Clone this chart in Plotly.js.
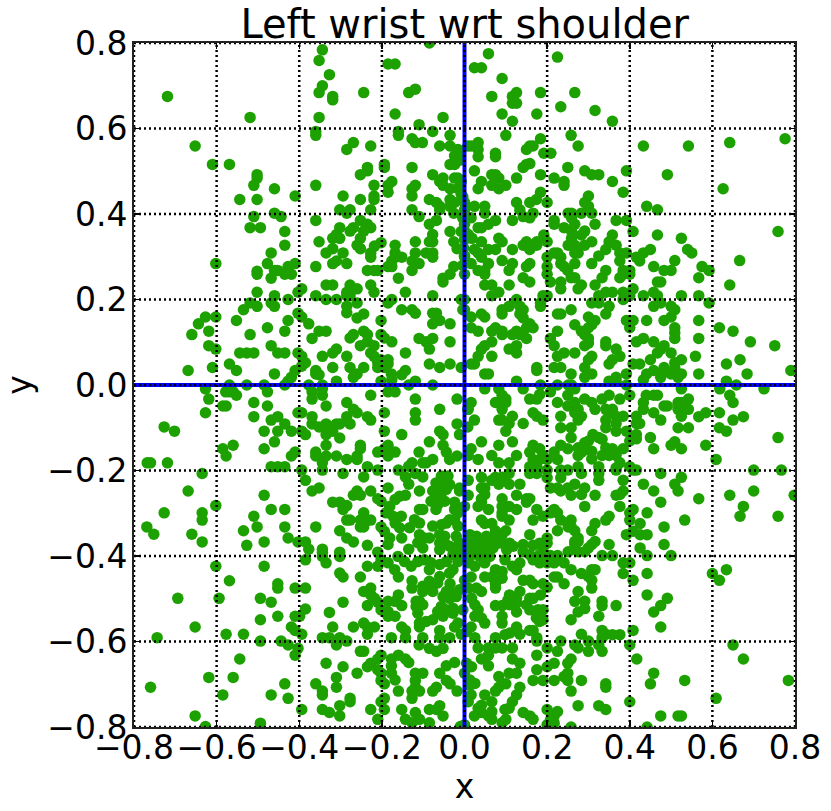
<!DOCTYPE html>
<html>
<head>
<meta charset="utf-8">
<script src="https://cdn.plot.ly/plotly-3.0.1.min.js"></script>
<style>
  html, body { margin: 0; padding: 0; background: #fff; }
</style>
</head>
<body>
<div id="chart" style="width:831px;height:811px"></div>
<script>
// points, one list per quadrant, [x, y]
const upperLeft = [
[-.719,.675],[-.344,.784],[-.352,.759],[-.185,.751],[-.168,.751],[-.327,.726],[-.344,.70],[-.352,.684],[-.319,.675],[-.319,.667],[-.244,.684],[-.135,.684],[-.119,.692],[-.519,.626],[-.352,.626],[-.168,.634],[-.052,.626],[-.11,.609],[-.085,.8],
[-.36,.593],[-.36,.584],[-.16,.593],[-.16,.584],[-.077,.593],[-.035,.584],[-.127,.576],[-.119,.567],[-.102,.567],[-.06,.559],[-.035,.559],[.008,.559],[-.652,.559],[-.269,.567],[-.285,.551],[-.227,.559],
[-.016,.551],[-.024,.536],[-.012,.536],[-.035,.516],[-.024,.516],[-.61,.516],[-.569,.516],[-.235,.509],[-.235,.501],[-.252,.492],[-.194,.516],[-.194,.509],[-.127,.509],[-.077,.492],[-.502,.492],[-.502,.484],[-.51,.467],[-.36,.467],[-.46,.459],
[-.176,.476],[-.185,.467],[-.185,.451],[-.219,.467],[-.119,.467],[-.127,.459],[-.127,.442],[-.06,.476],[-.052,.484],[-.052,.467],[-.035,.459],[-.024,.484],[-.016,.484],[-.008,.476],[-.544,.434],[-.502,.434],[-.41,.442],[-.294,.442],[-.252,.434],[-.219,.442],[-.219,.434],
[-.085,.434],[-.068,.427],[-.06,.418],[-.06,.41],[-.035,.434],[-.024,.427],[-.035,.418],[-.008,.446],[-.227,.41],[-.302,.41],[-.277,.41],[-.285,.402],[-.127,.41],[-.46,.402],[-.444,.394],[-.51,.394],[-.11,.394],[-.026,.402],[-.36,.385],[-.252,.385],[-.235,.376],[-.227,.368],
[-.068,.385],[-.085,.376],[-.519,.368],[-.494,.368],[-.302,.368],[-.269,.368],[-.277,.36],[-.435,.359],[-.244,.36],[-.252,.343],[-.31,.352],[-.319,.343],[-.302,.343],[-.035,.359],[-.008,.359],[-.077,.352],[-.077,.335],[-.085,.335],[-.352,.335],[-.119,.335],[-.202,.333],[-.218,.325],
[-.026,.335],[-.018,.319],[-.435,.327],[-.26,.327],[-.252,.319],[-.168,.327],[-.168,.309],[-.319,.319],[-.335,.309],[-.468,.309],[-.294,.309],[-.227,.309],[-.227,.299],[-.152,.299],[-.168,.299],[-.176,.29],[-.119,.309],[-.127,.29],[-.11,.284],[-.093,.309],[-.077,.309],[-.077,.299],
[-.602,.284],[-.477,.284],[-.41,.284],[-.427,.277],[-.31,.29],[-.319,.284],[-.285,.284],[-.36,.277],[-.185,.277],[-.176,.277],[-.026,.277],[-.502,.266],[-.502,.259],[-.46,.268],[-.452,.268],[-.435,.259],[-.419,.259],[-.468,.25],[-.235,.268],[-.219,.268],[-.21,.268],[-.127,.268],
[-.035,.259],[-.052,.25],[-.052,.241],[-.16,.25],[-.335,.234],[-.319,.234],[-.277,.234],[-.227,.234],[-.219,.217],[-.394,.225],[-.403,.217],[-.26,.225],[-.285,.217],[-.277,.209],[-.285,.209],[-.502,.217],[-.46,.209],[-.36,.209],[-.143,.217],[-.077,.209],[-.335,.2],[-.31,.2],[-.427,.2],
[-.519,.192],[-.502,.184],[-.468,.192],[-.46,.184],[-.176,.2],[-.185,.192],[-.008,.2],[-.26,.192],[-.285,.184],[-.285,.169],[-.26,.157],[-.244,.166],[-.535,.176],[-.152,.176],[-.127,.176],[-.119,.168],[-.004,.176],[-.077,.168],[-.068,.168],[-.06,.151],[-.077,.143],
[-.403,.168],[-.394,.159],[-.377,.143],[-.627,.159],[-.602,.159],[-.644,.143],[-.552,.151],[-.427,.151],[-.202,.151],[-.035,.143],[-.477,.134],[-.619,.126],[-.435,.126],[-.352,.126],[-.335,.126],[-.244,.126],[-.235,.118],[-.66,.118],[-.519,.118],[-.202,.118],[-.194,.11],[-.176,.101],
[-.269,.118],[-.277,.11],[-.369,.109],[-.11,.109],[-.093,.101],[-.077,.109],[-.085,.084],[-.035,.101],[-.252,.092],[-.235,.101],[-.219,.092],[-.619,.092],[-.602,.084],[-.468,.092],[-.544,.075],[-.527,.075],[-.51,.075],[-.452,.075],[-.435,.075],[-.31,.084],[-.319,.075],
[-.227,.075],[-.219,.067],[-.21,.052],[-.403,.075],[-.394,.067],[-.385,.052],[-.394,.044],[-.143,.075],[-.344,.067],[-.285,.067],[-.185,.059],[-.185,.049],[-.202,.059],[-.569,.049],[-.552,.034],[-.085,.049],[-.06,.041],[-.035,.049],[-.008,.041],[-.61,.041],[-.669,.034],
[-.319,.041],[-.277,.041],[-.244,.041],[-.21,.041],[-.194,.041],[-.41,.034],[-.36,.034],[-.36,.026],[-.352,.024],[-.143,.034],[-.152,.024],[-.177,.026],[-.26,.026],[-.269,.018],[-.46,.026],[-.419,.018],[-.427,.009],[-.31,.009],[-.202,.009],[-.176,.012],[-.119,.009],
[-.569,0],[-.527,0],[-.485,0],[-.435,0],[-.377,0],[-.344,0],[-.135,0],[-.077,0],[-.016,.46],[-.004,.44],[0,.41],[-.004,.39],[0,.34],[-.002,.32],[0,.3],[-.004,.28]
];
const upperRight = [
[.058,.775],[.225,.767],[.024,.742],[.041,.742],[.091,.717],[.066,.675],[.116,.675],[.126,.684],[.184,.684],[.267,.684],[.116,.659],[.126,.659],[.233,.651],[.316,.642],[.091,.634],[.175,.634],[.116,.617],[.358,.617],[.1,.584],[.258,.584],[.184,.576],
[.033,.567],[.016,.559],[.033,.551],[.033,.534],[.158,.559],[.166,.559],[.15,.551],[.275,.559],[.433,.559],[.542,.559],[.642,.567],[.776,.576],[.192,.542],[.209,.542],[.075,.542],[.075,.534],[-.011,.548],[-.011,.526],[.158,.518],[.15,.516],[.142,.509],[.25,.509],[.024,.501],
[.291,.501],[.308,.492],[.325,.492],[.392,.501],[.066,.492],[.075,.492],[.083,.484],[.184,.492],[.491,.492],[.126,.484],[.217,.484],[.041,.476],[.033,.459],[.241,.476],[.241,.467],[.358,.476],[.066,.467],[.083,.459],[.1,.467],[.626,.459],[.184,.451],[.174,.434],[.158,.427],[.384,.451],
[.3,.442],[.291,.427],[.3,.418],[.283,.402],[.126,.427],[.134,.41],[.142,.394],[.158,.391],[.166,.402],[.2,.427],[0,.427],[.024,.418],[.049,.418],[.049,.402],[.441,.418],[.467,.41],[.251,.402],[.259,.402],[.308,.402],[.016,.391],[.075,.385],[.058,.376],[.041,.368],[.033,.368],[.116,.385],
[.217,.385],[.217,.376],[.267,.376],[.259,.391],[.367,.385],[.392,.385],[.316,.376],[.241,.368],[.259,.36],[.259,.343],[.291,.36],[.283,.351],[.408,.359],[.759,.359],[.467,.351],[.358,.351],[.35,.335],[.342,.317],[0,.376],[0,.36],[.009,.352],[.018,.343],[.192,.351],[.083,.343],[.091,.335],
[.525,.343],[.041,.335],[.2,.335],[.308,.335],[.291,.327],[.15,.335],[.142,.327],[.158,.317],[.166,.327],[.175,.335],[.175,.327],[.251,.327],[.267,.327],[.267,.309],[.275,.309],[.367,.327],[.376,.309],[.392,.309],[.024,.317],[.033,.309],[.041,.299],[.058,.317],[.075,.317],[.116,.317],
[.45,.317],[.433,.309],[.416,.299],[.424,.29],[.54,.317],[.55,.309],[.217,.309],[.225,.309],[.2,.299],[.233,.299],[0,.302],[.325,.302],[.376,.29],[.509,.291],[.666,.291],[.091,.291],[.016,.284],[.058,.284],[.116,.284],[.108,.268],[.158,.284],[.15,.277],[.233,.284],[.241,.277],[.25,.268],[.258,.251],[.267,.251],
[.267,.284],[.308,.284],[.458,.277],[.575,.277],[.592,.268],[.2,.277],[.2,.259],[.033,.268],[.049,.268],[.049,.259],[.342,.268],[.333,.251],[.384,.268],[.4,.268],[.384,.259],[.4,.259],[.376,.251],[.483,.268],[.5,.268],[0,.259],[.142,.251],[.158,.241],[.567,.251],[.208,.241],[.233,.241],[.233,.225],
[.467,.241],[.475,.241],[.049,.234],[.066,.234],[.108,.234],[.283,.234],[.275,.225],[.316,.234],[.642,.234],[.408,.225],[.083,.217],[.066,.209],[.342,.217],[.358,.217],[.325,.209],[.384,.217],[.384,.2],[.4,.209],[.458,.217],[.433,.209],[.467,.209],[.19,.209],[.2,.209],[.525,.209],[.567,.209],[.126,.2],
[.184,.192],[.184,.184],[.308,.192],[.325,.192],[0,.2],[0,.176],[.592,.192],[.475,.192],[.458,.184],[.108,.184],[.091,.176],[.091,.166],[.134,.184],[.142,.176],[.134,.166],[.142,.157],[.258,.176],[.35,.184],[.342,.166],[.5,.184],[.509,.176],[.5,.159],[.483,.151],[.041,.166],[.049,.159],[.225,.166],[.233,.166],[.016,.159],
[.3,.159],[.316,.151],[.308,.141],[.3,.134],[.392,.151],[.408,.151],[.4,.134],[.158,.143],[.15,.134],[.166,.134],[.441,.151],[.567,.151],[.267,.141],[.509,.134],[.509,.122],[.509,.109],[.016,.134],[.033,.126],[.075,.134],[.066,.126],[.617,.134],[.091,.126],[.091,.118],[.126,.126],[.116,.118],[.134,.118],[.15,.109],
[.225,.126],[.283,.126],[.291,.118],[.3,.109],[.3,.098],[.291,.092],[.65,.126],[.208,.109],[.217,.092],[.433,.109],[.416,.101],[.567,.109],[.066,.101],[.049,.092],[.041,.084],[.033,.067],[.066,.067],[.342,.101],[.342,.092],[.458,.101],[.692,.101],[.751,.092],[.483,.092],[.475,.084],[.467,.075],
[.126,.092],[.108,.084],[.126,.075],[.367,.084],[.376,.067],[.358,.059],[.35,.049],[.241,.075],[.225,.067],[.267,.075],[.5,.075],[.308,.067],[.3,.059],[.291,.041],[.559,.067],[.45,.059],[.525,.059],[.509,.052],[.509,.04],[.667,.059],[.024,.049],[.016,.049],[.217,.041],[.233,.041],[.175,.041],[.175,.034],
[.408,.049],[.424,.049],[.634,.049],[.483,.041],[.483,.032],[.458,.034],[.79,.034],[.049,.026],[.058,.026],[.258,.026],[.308,.026],[.291,.018],[.392,.026],[.441,.026],[.433,.012],[.475,.018],[.5,.026],[.517,.018],[.525,.026],[.567,.026],[.684,.026],[.367,.018],[.35,.009],[.367,.009],[.126,.009],[.634,.009],[.658,0],[.184,0],[.225,0],[.251,0],[.259,0],[.392,0]
];
const lowerLeft = [
[-.627,-.009],[-.619,-.033],[-.578,-.016],[-.569,-.016],[-.56,-.016],[-.552,-.024],[-.477,-.016],[-.369,-.016],[-.369,-.033],[-.344,-.024],[-.344,-.009],[-.227,-.024],[-.185,-.016],[-.168,-.016],[-.119,-.033],[-.018,-.033],[-.51,-.041],[-.477,-.049],[-.585,-.049],[-.577,-.049],[-.285,-.041],[-.335,-.049],
[-.269,-.057],[-.26,-.065],[-.06,-.057],[.008,-.057],[-.119,-.065],[-.119,-.082],[-.627,-.065],[-.403,-.065],[-.394,-.065],[-.194,-.065],[-.51,-.074],[-.452,-.074],[-.468,-.082],[-.369,-.074],[-.369,-.091],[-.352,-.098],[-.285,-.074],[-.235,-.074],[-.227,-.082],
[-.435,-.091],[-.335,-.091],[-.31,-.091],[-.302,-.091],[-.277,-.091],[-.018,-.091],[.008,-.098],[-.727,-.098],[-.702,-.108],[-.485,-.108],[-.452,-.108],[-.419,-.108],[-.394,-.108],[-.385,-.116],[-.319,-.108],[-.335,-.116],[-.194,-.108],[-.06,-.108],[-.052,-.116],[-.152,-.116],[-.012,-.116],
[-.302,-.124],[-.46,-.133],[-.085,-.133],[-.335,-.141],[-.185,-.141],[-.052,-.141],[-.252,-.141],[-.252,-.149],[-.56,-.141],[-.585,-.149],[-.577,-.166],[-.485,-.149],[-.194,-.149],[-.168,-.157],[-.21,-.157],[-.185,-.166],[-.41,-.157],[-.419,-.166],[-.36,-.157],[-.36,-.166],[-.11,-.157],
[-.044,-.157],[-.036,-.174],[-.018,-.166],[-.31,-.166],[-.335,-.166],[-.26,-.166],[-.26,-.174],[-.285,-.174],[-.344,-.182],[-.093,-.182],[-.077,-.174],[-.101,-.182],[-.127,-.182],[-.135,-.19],[-.768,-.182],[-.76,-.182],[-.719,-.182],[-.344,-.199],[-.468,-.191],[-.452,-.191],[-.435,-.191],[-.235,-.191],
[-.21,-.199],[-.16,-.199],[-.143,-.215],[-.135,-.232],[-.394,-.199],[-.385,-.223],[-.635,-.207],[-.294,-.207],[-.244,-.215],[-.119,-.207],[-.101,-.215],[-.056,-.213],[-.04,-.213],[-.069,-.229],[-.052,-.229],[-.036,-.233],[-.077,-.248],[-.06,-.248],[-.044,-.244],[-.069,-.264],[-.056,-.264],[-.081,-.272],[-.065,-.28],[-.048,-.272],[-.069,-.291],
[-.012,-.241],[-.012,-.248],[-.352,-.241],[-.369,-.248],[-.185,-.241],[-.109,-.248],[-.669,-.248],[-.227,-.248],[-.26,-.248],[-.269,-.258],[-.252,-.258],[-.485,-.258],[-.143,-.258],[-.157,-.26],[-.168,-.268],[-.21,-.266],[-.202,-.272],[-.319,-.274],[-.302,-.274],[-.285,-.282],[-.294,-.291],
[-.024,-.274],[-.602,-.282],[-.181,-.284],[-.19,-.299],[-.468,-.291],[-.435,-.291],[-.109,-.291],[-.101,-.291],[-.024,-.291],[-.016,-.299],[-.727,-.299],[-.635,-.299],[-.635,-.316],[-.244,-.299],[-.252,-.316],[-.235,-.316],[-.227,-.316],[-.277,-.316],[-.285,-.316],[-.244,-.332],[-.252,-.332],
[-.51,-.307],[-.173,-.307],[-.153,-.307],[-.168,-.323],[-.121,-.315],[-.109,-.323],[-.024,-.315],[-.036,-.315],[-.016,-.33],[-.769,-.332],[-.752,-.349],[-.502,-.332],[-.435,-.332],[-.36,-.332],[-.202,-.332],[-.157,-.334],[-.133,-.334],[-.077,-.33],[-.056,-.327],[-.044,-.323],[-.535,-.341],[-.302,-.341],
[-.194,-.342],[-.181,-.358],[-.185,-.373],[-.66,-.349],[-.427,-.358],[-.285,-.358],[-.269,-.367],[-.152,-.358],[-.109,-.35],[-.113,-.369],[-.097,-.358],[-.085,-.358],[-.101,-.381],[-.06,-.35],[-.048,-.354],[-.06,-.37],[-.048,-.37],[-.036,-.377],[-.06,-.385],[-.02,-.354],[-.012,-.37],[-.016,-.385],[-.028,-.397],
[-.635,-.367],[-.485,-.367],[-.403,-.367],[-.385,-.367],[-.377,-.384],[-.235,-.375],[-.527,-.375],[-.344,-.384],[-.344,-.391],[-.344,-.401],[-.335,-.416],[-.302,-.391],[-.302,-.401],[-.135,-.384],[-.21,-.391],[-.202,-.409],[-.21,-.424],[-.161,-.401],[-.145,-.413],[-.129,-.424],[-.185,-.416],[-.169,-.432],[-.16,-.449],
[-.113,-.413],[-.097,-.409],[-.081,-.416],[-.085,-.432],[-.06,-.42],[-.044,-.413],[-.016,-.413],[-.008,-.401],[-.385,-.409],[-.602,-.424],[-.485,-.424],[-.235,-.424],[-.302,-.44],[-.294,-.449],[-.252,-.449],[-.036,-.44],[-.028,-.432],[-.06,-.448],[-.065,-.463],[-.085,-.459],[-.569,-.458],[-.127,-.458],[-.127,-.475],
[-.452,-.465],[-.452,-.475],[-.035,-.465],[-.101,-.471],[-.085,-.475],[-.101,-.483],[-.077,-.483],[-.41,-.475],[-.385,-.475],[-.227,-.475],[-.244,-.483],[-.227,-.491],[-.218,-.499],[-.044,-.483],[-.028,-.487],[-.012,-.479],[-.052,-.495],[-.036,-.499],[-.02,-.495],[-.694,-.499],[-.594,-.499],[-.494,-.499],
[-.16,-.491],[-.168,-.506],[-.185,-.506],[-.152,-.516],[-.468,-.508],[-.294,-.508],[-.117,-.506],[-.109,-.506],[-.101,-.514],[-.117,-.518],[-.113,-.534],[-.235,-.516],[-.21,-.508],[-.202,-.526],[-.056,-.518],[-.065,-.53],[-.044,-.526],[-.028,-.522],[-.028,-.534],[-.052,-.541],[-.004,-.526],
[-.385,-.524],[-.185,-.53],[-.185,-.541],[-.168,-.541],[-.327,-.532],[-.452,-.541],[-.41,-.541],[-.399,-.541],[-.494,-.549],[-.109,-.557],[-.109,-.566],[-.093,-.553],[-.077,-.549],[-.244,-.557],[-.235,-.566],[-.218,-.566],[-.235,-.583],[-.652,-.566],[-.319,-.566],[-.269,-.566],[-.152,-.566],[-.143,-.574],[-.143,-.591],
[-.024,-.566],[-.016,-.557],[-.419,-.566],[-.41,-.574],[-.394,-.583],[-.06,-.574],[-.06,-.591],[-.577,-.583],[-.535,-.583],[-.744,-.591],[-.344,-.591],[-.327,-.591],[-.302,-.591],[-.285,-.599],[-.31,-.608],[-.177,-.591],[-.101,-.591],[-.036,-.591],[-.008,-.583],[-.494,-.599],[-.444,-.599],[-.427,-.608],
[-.11,-.608],[-.085,-.616],[-.068,-.623],[-.052,-.616],[-.403,-.616],[-.41,-.632],[-.252,-.623],[-.244,-.623],[-.202,-.632],[-.21,-.641],[-.227,-.651],[-.235,-.659],[-.16,-.632],[-.177,-.641],[-.177,-.657],[-.177,-.674],[-.168,-.69],[-.143,-.641],[-.135,-.649],[-.544,-.641],[-.335,-.651],[-.294,-.659],
[-.024,-.649],[-.044,-.657],[-.21,-.666],[-.202,-.674],[-.26,-.674],[-.119,-.674],[-.101,-.674],[-.06,-.674],[-.619,-.684],[-.56,-.684],[-.31,-.684],[-.202,-.691],[-.194,-.699],[-.044,-.691],[-.035,-.699],[-.119,-.691],[-.119,-.707],[-.127,-.716],[-.109,-.716],[-.127,-.733],[-.435,-.699],[-.36,-.699],
[-.76,-.707],[-.31,-.707],[-.068,-.707],[-.077,-.716],[-.344,-.716],[-.344,-.725],[-.16,-.716],[-.018,-.716],[-.585,-.725],[-.468,-.725],[-.427,-.733],[-.277,-.733],[-.277,-.741],[-.194,-.733],[-.202,-.741],[-.302,-.75],[-.06,-.75],[-.085,-.759],[-.068,-.759],[-.394,-.759],[-.344,-.759],[-.327,-.766],
[-.227,-.759],[-.194,-.759],[-.152,-.759],[-.119,-.766],[-.052,-.774],[-.302,-.774],[-.652,-.774],[-.143,-.782],[-.109,-.782],[-.21,-.782],[-.127,-.79],[-.085,-.79],[-.494,-.791],[-.627,-.799],[-.01,-.799]
];
const lowerRight = [
[.049,-.009],[.083,-.009],[.142,-.009],[.267,-.009],[.525,-.009],[.618,-.009],[.725,-.009],[.208,-.016],[.182,-.022],[.175,-.033],[.158,-.033],[.25,-.024],[.35,-.024],[.333,-.033],[.376,-.033],[.44,-.024],[.458,-.024],[.467,-.024],[.433,-.041],[.433,-.057],[.4,-.024],[.642,-.024],[.65,-.041],
[.091,-.024],[.1,-.033],[.1,-.041],[.091,-.057],[.291,-.033],[.308,-.041],[.316,-.057],[.542,-.033],[.016,-.041],[.009,-.057],[.075,-.041],[.225,-.041],[.258,-.049],[.267,-.041],[.275,-.057],[.25,-.049],[.267,-.065],[.483,-.049],[.491,-.049],[.517,-.041],[.525,-.041],[.517,-.057],[.542,-.057],[.525,-.057],
[.342,-.057],[.358,-.057],[.35,-.065],[.367,-.073],[.384,-.073],[.458,-.065],[.475,-.082],[.525,-.073],[.617,-.065],[.584,-.065],[.567,-.074],[.416,-.073],[.416,-.09],[.424,-.09],[.166,-.065],[.175,-.073],[.19,-.082],[.233,-.073],[.233,-.1],[.116,-.073],[.108,-.09],[.1,-.108],[.283,-.073],[.275,-.082],
[.024,-.082],[.083,-.082],[.091,-.082],[.142,-.09],[.675,-.074],[.65,-.082],[.342,-.082],[.342,-.1],[.367,-.09],[.367,-.108],[.258,-.1],[.517,-.1],[.542,-.1],[.617,-.1],[.634,-.108],[.392,-.108],[.416,-.116],[.416,-.126],[.4,-.131],[.311,-.116],[.325,-.123],[.333,-.127],[.3,-.131],[.291,-.135],[.275,-.147],
[.45,-.123],[.759,-.123],[.258,-.123],[.041,-.133],[.116,-.133],[.083,-.141],[.509,-.133],[.5,-.141],[.525,-.149],[.584,-.141],[.166,-.141],[.182,-.149],[.158,-.157],[.166,-.174],[.182,-.174],[.19,-.165],[.233,-.141],[.25,-.149],[.217,-.157],[.225,-.174],[.458,-.149],[.384,-.149],[.342,-.147],[.358,-.149],[.35,-.165],[.367,-.165],[.333,-.165],
[.308,-.155],[.291,-.152],[.308,-.173],[.283,-.157],[.275,-.165],[.016,-.149],[.009,-.165],[.066,-.165],[.033,-.174],[.126,-.165],[.108,-.182],[.083,-.182],[.2,-.174],[.609,-.174],[.376,-.182],[.367,-.194],[.275,-.191],[.325,-.191],[.325,-.207],[.325,-.223],[.158,-.191],[.175,-.191],[.158,-.207],[.175,-.207],
[.2,-.199],[.2,-.217],[.4,-.191],[.408,-.199],[.416,-.199],[.233,-.199],[.25,-.199],[.233,-.217],[.7,-.199],[.767,-.199],[.283,-.207],[.475,-.207],[.367,-.199],[.384,-.223],[.041,-.216],[.075,-.216],[.091,-.216],[.108,-.207],[.525,-.216],[.009,-.223],[.066,-.223],[.083,-.232],[.433,-.232],[.509,-.232],[.517,-.248],
[.108,-.232],[.134,-.232],[.267,-.232],[.041,-.241],[.049,-.241],[.208,-.241],[.225,-.241],[.25,-.241],[.291,-.241],[.283,-.256],[.458,-.248],[.233,-.248],[.258,-.258],[.384,-.248],[.376,-.256],[.367,-.258],[.7,-.248],[.009,-.258],[.049,-.256],[.041,-.266],[.126,-.258],[.316,-.258],[.642,-.258],[.798,-.258],
[.091,-.266],[.15,-.266],[.158,-.266],[.15,-.274],[.567,-.266],[.041,-.274],[.033,-.284],[.475,-.274],[.091,-.284],[.108,-.284],[.091,-.299],[0,-.284],[.291,-.284],[.376,-.284],[.675,-.284],[.058,-.291],[.126,-.291],[.175,-.291],[.217,-.291],[.208,-.299],[.225,-.299],[.408,-.291],[.4,-.299],[.4,-.316],
[.442,-.299],[.35,-.307],[.342,-.316],[.667,-.307],[.759,-.307],[.19,-.307],[.233,-.316],[.258,-.316],[.108,-.316],[.166,-.316],[.091,-.307],[.533,-.316],[.041,-.316],[.049,-.324],[.066,-.324],[.316,-.324],[.425,-.324],[.251,-.332],[.267,-.341],[.258,-.332],[.483,-.332],[.225,-.341],[.308,-.341],
[.1,-.341],[.091,-.35],[.075,-.341],[.392,-.35],[.408,-.342],[.425,-.35],[.442,-.35],[.158,-.35],[.275,-.358],[.267,-.366],[.275,-.366],[.267,-.373],[.013,-.35],[.029,-.354],[.053,-.354],[.069,-.358],[.013,-.37],[.037,-.37],[.061,-.37],[.081,-.37],[.093,-.37],[.109,-.37],
[.316,-.366],[.308,-.373],[.3,-.381],[.2,-.358],[.2,-.37],[.182,-.37],[.166,-.375],[.142,-.373],[.118,-.377],[.19,-.381],[.35,-.373],[.483,-.373],[.005,-.381],[.025,-.385],[.045,-.385],[.069,-.381],[.102,-.385],[.425,-.381],[.251,-.39],[.275,-.39],[.291,-.39],[.208,-.399],[.225,-.399],
[.333,-.399],[.358,-.399],[.442,-.399],[.5,-.399],[.142,-.39],[.158,-.397],[.182,-.397],[.013,-.401],[.037,-.401],[.061,-.401],[.098,-.409],[.009,-.416],[.025,-.424],[.049,-.416],[.134,-.416],[.166,-.409],[.182,-.416],[.2,-.416],[.217,-.416],[.241,-.416],[.384,-.416],[.4,-.416],[.116,-.424],[.126,-.432],
[.258,-.432],[.308,-.432],[.316,-.432],[.634,-.432],[.075,-.432],[.091,-.436],[.384,-.441],[.442,-.441],[.6,-.441],[.283,-.441],[.3,-.448],[.049,-.449],[.066,-.449],[.091,-.452],[.016,-.449],[.217,-.449],[.225,-.449],[.142,-.457],[.158,-.457],[.166,-.465],[.308,-.457],[.308,-.475],[.408,-.457],[.617,-.457],
[.19,-.465],[.2,-.473],[0,-.457],[.075,-.465],[.075,-.475],[.241,-.465],[.009,-.475],[.029,-.475],[.041,-.483],[.134,-.483],[.126,-.499],[.126,-.51],[.109,-.491],[.105,-.503],[.109,-.514],[.275,-.483],[.184,-.491],[.158,-.499],[.166,-.499],[.15,-.514],[.442,-.491],[.491,-.499],[.475,-.516],[.458,-.531],
[.017,-.499],[.025,-.514],[.033,-.526],[.267,-.506],[.291,-.506],[.291,-.523],[.275,-.531],[.333,-.506],[.333,-.516],[.367,-.516],[.075,-.516],[.091,-.516],[.158,-.526],[.178,-.526],[.19,-.526],[.126,-.531],[.325,-.541],[.025,-.541],[.041,-.545],[.091,-.541],[.091,-.557],[.174,-.545],[.19,-.549],[.182,-.553],
[.258,-.549],[.049,-.557],[.016,-.566],[.005,-.577],[.126,-.566],[.11,-.58],[.158,-.574],[.166,-.574],[.175,-.591],[.475,-.566],[.408,-.574],[.333,-.574],[.342,-.583],[.333,-.591],[.358,-.584],[.376,-.584],[.283,-.583],[.134,-.583],[.098,-.584],[.025,-.591],[.075,-.591],[.233,-.599],[.3,-.599],[.267,-.608],
[.4,-.608],[.65,-.608],[.033,-.615],[.058,-.615],[.075,-.615],[.091,-.615],[.116,-.615],[.175,-.599],[.2,-.615],[.275,-.615],[.3,-.623],[.325,-.608],[.333,-.623],[.225,-.623],[.175,-.632],[.058,-.632],[.041,-.641],[.417,-.641],[.675,-.641],[.258,-.641],[.25,-.651],[.116,-.641],[.134,-.651],[.217,-.651],
[.005,-.651],[.017,-.659],[.058,-.657],[.175,-.666],[.2,-.659],[.126,-.674],[.108,-.674],[.458,-.674],[.083,-.682],[.25,-.674],[.241,-.682],[.25,-.691],[0,-.674],[.013,-.69],[.025,-.698],[.013,-.702],[.166,-.691],[.19,-.691],[.217,-.691],[.283,-.691],[.533,-.691],[.784,-.691],[.45,-.699],[.342,-.699],[.342,-.707],
[.1,-.699],[.083,-.707],[.075,-.716],[.134,-.707],[.126,-.725],[.116,-.741],[.108,-.756],[.258,-.716],[.016,-.725],[.009,-.741],[.049,-.725],[.066,-.741],[.609,-.733],[.4,-.741],[.041,-.749],[.033,-.756],[.275,-.75],[.325,-.75],[.342,-.759],[.2,-.759],[.225,-.764],[.217,-.774],[.208,-.784],
[.098,-.759],[.066,-.764],[.058,-.774],[.066,-.782],[.041,-.766],[.142,-.766],[.158,-.774],[.166,-.782],[.024,-.774],[.475,-.774],[.517,-.774],[.525,-.774],[.091,-.79],[.1,-.782],[.258,-.8],[.442,-.8],[.217,-.791],[.2,-.795],[0,-.795]
];

const tickValues = [-0.8, -0.6, -0.4, -0.2, 0, 0.2, 0.4, 0.6, 0.8];
const titleText = 'Left wrist wrt shoulder';
const pointColor = '#1da100';

const points = upperLeft.concat(upperRight, lowerLeft, lowerRight);

var dados = [{
    type: 'scatter',
    mode: 'markers',
    x: points.map(p => p[0]),
    y: points.map(p => p[1]),
    marker: { color: pointColor, size: 11.5, line: { width: 0 } },
    hoverinfo: 'x+y'
}];

// blue cross first, then the dotted grid on top of the dots and of the cross
var shapes = [
    { type: 'line', xref: 'x', yref: 'y', x0: -0.8, x1: 0.8, y0: 0, y1: 0, layer: 'above', line: { color: '#0000ff', width: 4 } },
    { type: 'line', xref: 'x', yref: 'y', x0: 0, x1: 0, y0: -0.8, y1: 0.8, layer: 'above', line: { color: '#0000ff', width: 4 } }
];
tickValues.forEach(v => {
    const grid = { color: '#000', width: 2.5, dash: '2px,3px' };
    shapes.push({ type: 'line', xref: 'x', yref: 'y', x0: v, x1: v, y0: -0.8, y1: 0.8, layer: 'above', line: grid });
    shapes.push({ type: 'line', xref: 'x', yref: 'y', x0: -0.8, x1: 0.8, y0: v, y1: v, layer: 'above', line: grid });
});

const axisFont = { family: 'DejaVu Sans', size: 33, color: '#000' };

function axis(label, standoff, labelStandoff) {
    return {
        title: { text: label, font: axisFont, standoff: standoff },
        range: [-0.8, 0.8],
        autorange: false,
        tickmode: 'array',
        tickvals: tickValues,
        ticktext: tickValues.map(v => (v < 0 ? '\u2212' : '') + Math.abs(v).toFixed(1)),
        tickfont: axisFont,
        ticklabelstandoff: labelStandoff,
        ticks: 'inside',
        ticklen: 6,
        tickwidth: 1.5,
        tickcolor: '#000',
        showgrid: false,
        zeroline: false,
        showline: true,
        linecolor: '#222',
        linewidth: 2,
        mirror: 'allticks',
        layer: 'above traces'
    };
}

var layout = {
    width: 831,
    height: 811,
    margin: { l: 134, r: 36, t: 43, b: 84, pad: 0 },
    paper_bgcolor: '#fff',
    plot_bgcolor: '#fff',
    showlegend: false,
    title: {
        text: titleText,
        font: { family: 'DejaVu Sans', size: 40, color: '#000' },
        x: 0.5592,
        xanchor: 'center',
        y: 0.9535,
        yanchor: 'bottom',
        pad: { t: 0, b: 0, l: 0, r: 0 }
    },
    xaxis: axis('x', 6, -10),
    yaxis: axis('y', 8, -2),
    shapes: shapes
};

Plotly.newPlot('chart', dados, layout, { displayModeBar: false, staticPlot: true });
</script>
</body>
</html>
